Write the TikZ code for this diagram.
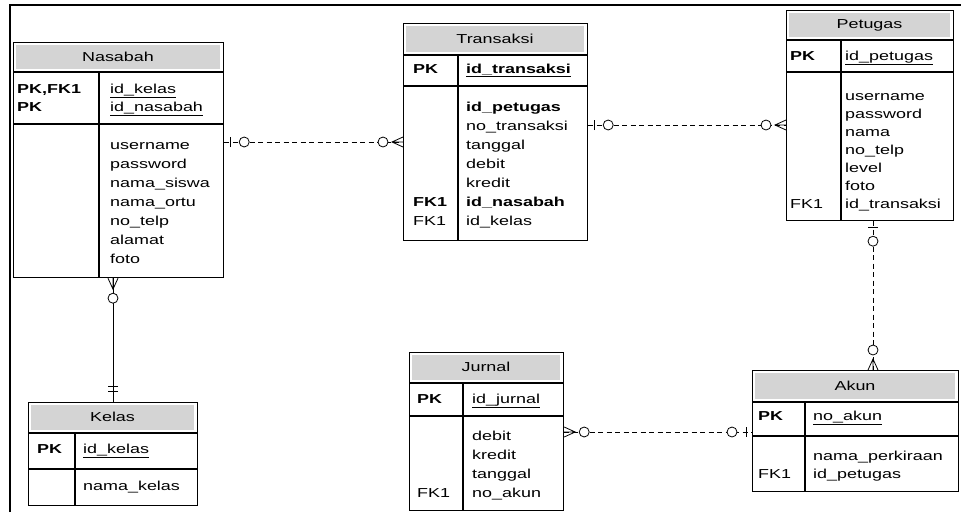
\documentclass[tikz,border=0pt]{standalone}
\usepackage{fontspec}
\setmainfont{Liberation Sans}[FakeStretch=1.38]
\usetikzlibrary{positioning, calc}

\tikzset{
	tbl/.style={draw, line width=1.2pt, anchor=north west, inner sep=0pt},
	sep/.style={line width=1.2pt},
	keysep/.style={line width=1.8pt},
	titlebg/.style={fill=black!17},
	attr/.style={anchor=west, inner sep=0pt, text height=9.5pt, text depth=2.5pt},
	rel/.style={line width=0.8pt},
	reldash/.style={rel, dash pattern=on 5pt off 3.5pt},
	zeroone/.pic={
		\draw[rel, solid] (6,-5) -- (6,5);
		\draw[rel, solid, fill=white] (20,0) circle (5pt);
	},
	zeromany/.pic={
		\draw[rel, solid] (0,-5) -- (11,0) -- (0,5) (0,0) -- (11,0);
		\draw[rel, solid, fill=white] (20,0) circle (5pt);
	},
	onlyone/.pic={
		\draw[rel, solid] (11,-5) -- (11,5) (16,-5) -- (16,5);
	}
}

\begin{document}
\begin{tikzpicture}[x=1pt, y=1pt, node font=\fontsize{13pt}{15pt}\selectfont]
	\useasboundingbox (0,0) rectangle (961,-512);
	\draw[line width=1.5pt] (10,-512) -- (10,-5) -- (961,-5);
	
	% Nasabah
	\node[tbl, minimum width=210pt, minimum height=235pt] (nasabah) at (13,-42) {};
	\fill[titlebg] (16,-45) rectangle (220,-69);
	\node (nasabahTitle) at (118,-57) {Nasabah};
	\draw[sep] (13,-72) -- (223,-72);
	\draw[keysep] (13,-124) -- (223,-124);
	\draw[line width=1.5pt] (99,-72) -- (99,-277);
	\node[attr] (nasabahK1) at (17,-90) {\textbf{PK,FK1}};
	\node[attr] (nasabahK2) at (17,-108) {\textbf{PK}};
	\node[attr] (nasabahP1) at (110,-90) {\underline{id\_kelas}};
	\node[attr] (nasabahP2) at (110,-108) {\underline{id\_nasabah}};
	\foreach \t [count=\i from 0] in {username,password,nama\_siswa,nama\_ortu,no\_telp,alamat,foto}
		\node[attr] (nasabahA\i) at (110,-146-19*\i) {\t};
	
	% Transaksi
	\node[tbl, minimum width=184pt, minimum height=217pt] (transaksi) at (403,-23) {};
	\fill[titlebg] (406,-26) rectangle (584,-52);
	\node (transaksiTitle) at (495,-39) {Transaksi};
	\draw[sep] (403,-55) -- (587,-55);
	\draw[keysep] (403,-86) -- (587,-86);
	\draw[line width=1.5pt] (458,-55) -- (458,-240);
	\node[attr] (transaksiK1) at (413,-70) {\textbf{PK}};
	\node[attr] (transaksiP1) at (466,-70) {\textbf{\underline{id\_transaksi}}};
	\foreach \t [count=\i from 0] in {\textbf{id\_petugas},no\_transaksi,tanggal,debit,kredit,\textbf{id\_nasabah},id\_kelas}
		\node[attr] (transaksiA\i) at (466,-108-19*\i) {\t};
	\node[attr] (transaksiF1) at (413,-203) {\textbf{FK1}};
	\node[attr] (transaksiF2) at (413,-222) {FK1};
	
	% Petugas
	\node[tbl, minimum width=167pt, minimum height=210pt] (petugas) at (786,-10) {};
	\fill[titlebg] (789,-13) rectangle (950,-37);
	\node (petugasTitle) at (869.5,-25) {Petugas};
	\draw[sep] (786,-40) -- (953,-40);
	\draw[keysep] (786,-72) -- (953,-72);
	\draw[line width=1.5pt] (841,-40) -- (841,-220);
	\node[attr] (petugasK1) at (790,-57) {\textbf{PK}};
	\node[attr] (petugasP1) at (845,-57) {\underline{id\_petugas}};
	\foreach \t [count=\i from 0] in {username,password,nama,no\_telp,level,foto,id\_transaksi}
		\node[attr] (petugasA\i) at (845,-97-18*\i) {\t};
	\node[attr] (petugasF1) at (790,-205) {FK1};
	
	% Kelas
	\node[tbl, minimum width=169pt, minimum height=103pt] (kelas) at (28,-402) {};
	\fill[titlebg] (31,-405) rectangle (194,-430);
	\node (kelasTitle) at (112.5,-417) {Kelas};
	\draw[sep] (28,-433) -- (197,-433);
	\draw[keysep] (28,-469) -- (197,-469);
	\draw[line width=1.5pt] (75,-433) -- (75,-505);
	\node[attr] (kelasK1) at (37,-450) {\textbf{PK}};
	\node[attr] (kelasP1) at (83,-450) {\underline{id\_kelas}};
	\node[attr] (kelasA0) at (83,-487) {nama\_kelas};
	
	% Jurnal
	\node[tbl, minimum width=154pt, minimum height=158pt] (jurnal) at (409,-352) {};
	\fill[titlebg] (412,-355) rectangle (560,-380);
	\node (jurnalTitle) at (486,-367) {Jurnal};
	\draw[sep] (409,-383) -- (563,-383);
	\draw[keysep] (409,-416) -- (563,-416);
	\draw[line width=1.5pt] (463,-383) -- (463,-510);
	\node[attr] (jurnalK1) at (417,-400) {\textbf{PK}};
	\node[attr] (jurnalP1) at (472,-400) {\underline{id\_jurnal}};
	\foreach \t [count=\i from 0] in {debit,kredit,tanggal,no\_akun}
		\node[attr] (jurnalA\i) at (472,-437-19*\i) {\t};
	\node[attr] (jurnalF1) at (417,-494) {FK1};
	
	% Akun
	\node[tbl, minimum width=206pt, minimum height=121pt] (akun) at (752,-370) {};
	\fill[titlebg] (755,-373) rectangle (955,-399);
	\node (akunTitle) at (855,-386) {Akun};
	\draw[sep] (752,-402) -- (958,-402);
	\draw[keysep] (752,-436) -- (958,-436);
	\draw[line width=1.5pt] (805,-402) -- (805,-491);
	\node[attr] (akunK1) at (758,-417) {\textbf{PK}};
	\node[attr] (akunP1) at (813,-417) {\underline{no\_akun}};
	\node[attr] (akunA0) at (813,-457) {nama\_perkiraan};
	\node[attr] (akunA1) at (813,-475) {id\_petugas};
	\node[attr] (akunF1) at (758,-475) {FK1};
	
	% relasi
	\coordinate (nas1) at ($(nasabah.north east)+(0,-100)$);
	\coordinate (tra1) at ($(transaksi.north west)+(0,-119)$);
	\coordinate (tra2) at ($(transaksi.north east)+(0,-102)$);
	\coordinate (pet1) at ($(petugas.north west)+(0,-115)$);
	\coordinate (nas2) at ($(nasabah.south west)+(100,0)$);
	\coordinate (kel1) at ($(kelas.north west)+(85,0)$);
	\coordinate (pet2) at ($(petugas.south west)+(87,0)$);
	\coordinate (aku1) at ($(akun.north west)+(121,0)$);
	\coordinate (jur1) at ($(jurnal.north east)+(0,-80)$);
	\coordinate (aku2) at ($(akun.north west)+(0,-62)$);
	
	\draw[reldash] (nas1) -- (tra1);
	\draw[reldash] (tra2) -- (pet1);
	\draw[rel] (nas2) -- (kel1);
	\draw[reldash] (pet2) -- (aku1);
	\draw[reldash] (jur1) -- (aku2);
	
	\path (nas1) pic {zeroone}
	(tra1) pic[rotate=180] {zeromany}
	(tra2) pic {zeroone}
	(pet1) pic[rotate=180] {zeromany}
	(nas2) pic[rotate=-90] {zeromany}
	(kel1) pic[rotate=90] {onlyone}
	(pet2) pic[rotate=-90] {zeroone}
	(aku1) pic[rotate=90] {zeromany}
	(jur1) pic {zeromany}
	(aku2) pic[rotate=180] {zeroone}
	;
\end{tikzpicture}
\end{document}
